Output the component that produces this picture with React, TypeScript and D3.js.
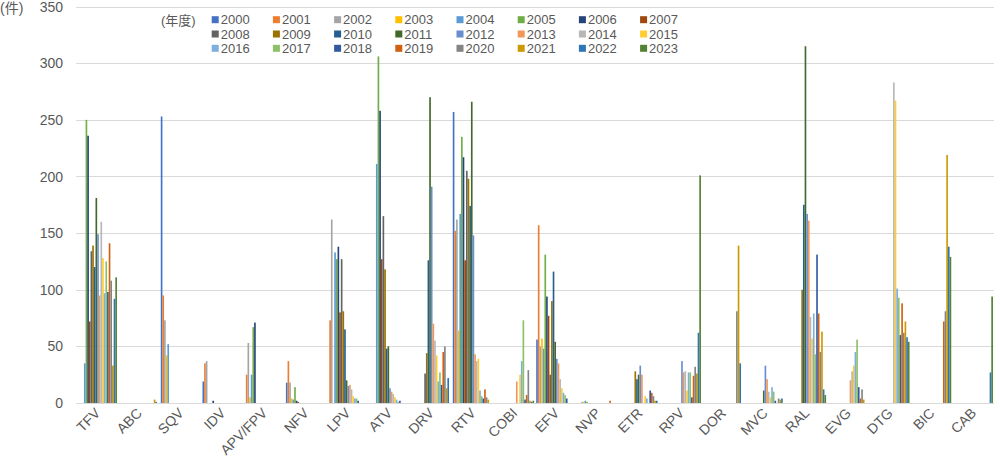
import React, { useEffect, useRef } from 'react';
import * as d3 from 'd3';

// categories (drugs) and the series (fiscal years)
const drugs = ['TFV', 'ABC', 'SQV', 'IDV', 'APV/FPV', 'NFV', 'LPV', 'ATV', 'DRV', 'RTV', 'COBI', 'EFV', 'NVP', 'ETR', 'RPV', 'DOR', 'MVC', 'RAL', 'EVG', 'DTG', 'BIC', 'CAB'];
const years = ['2000', '2001', '2002', '2003', '2004', '2005', '2006', '2007', '2008', '2009', '2010', '2011',
  '2012', '2013', '2014', '2015', '2016', '2017', '2018', '2019', '2020', '2021', '2022', '2023'];
const yearColors = ['#4472C4', '#ED7D31', '#A5A5A5', '#FFC000', '#5B9BD5', '#70AD47', '#264478', '#9E480E',
  '#636363', '#997300', '#255E91', '#43682B', '#698ED0', '#F1975A', '#B7B7B7', '#FFCD33',
  '#7CAFDD', '#8CC168', '#335AA1', '#D26012', '#848484', '#CC9A00', '#2E75B6', '#548235'];
const yTicks = [0, 50, 100, 150, 200, 250, 300, 350];

// counts per drug, 2000 .. 2023
const TFV = [0, 0, 0, 0, 35, 250, 236, 72, 134, 139, 120, 181, 149, 95, 160, 128, 97, 125, 98, 141, 108, 33, 92, 111];
const ABC = [0, 0, 0, 0, 0, 0, 0, 0, 0, 0, 0, 0, 0, 0, 0, 0, 0, 0, 0, 0, 0, 3, 1, 0];
const SQV = [253, 95, 73, 42, 52, 0, 0, 0, 0, 0, 0, 0, 0, 0, 0, 0, 0, 0, 0, 0, 0, 0, 0, 0];
const IDV = [19, 35, 37, 0, 0, 0, 2, 0, 0, 0, 0, 0, 0, 0, 0, 0, 0, 0, 0, 0, 0, 0, 0, 0];
const APV = [0, 25, 53, 5, 25, 67, 71, 0, 0, 0, 0, 0, 0, 0, 0, 0, 0, 0, 0, 0, 0, 0, 0, 0];
const NFV = [18, 37, 18, 4, 3, 14, 2, 1, 0, 0, 0, 0, 0, 0, 0, 0, 0, 0, 0, 0, 0, 0, 0, 0];
const LPV = [0, 73, 162, 0, 133, 127, 138, 80, 127, 81, 65, 20, 15, 16, 12, 6, 4, 4, 2, 0, 0, 0, 0, 0];
const ATV = [0, 0, 0, 0, 211, 306, 258, 127, 165, 118, 48, 50, 13, 10, 8, 5, 3, 1, 2, 0, 0, 0, 0, 0];
const DRV = [0, 0, 0, 0, 0, 0, 0, 0, 26, 44, 126, 270, 191, 70, 55, 42, 19, 27, 16, 45, 50, 13, 22, 0];
const RTV = [257, 152, 162, 64, 167, 235, 217, 126, 205, 198, 174, 266, 148, 43, 37, 39, 11, 6, 4, 12, 5, 3, 0, 0];
const COBI = [0, 0, 0, 0, 0, 0, 0, 0, 0, 0, 0, 0, 0, 19, 0, 25, 37, 73, 3, 7, 29, 2, 1, 2];
const EFV = [56, 157, 50, 57, 48, 131, 94, 77, 25, 90, 116, 54, 39, 35, 21, 13, 9, 7, 4, 0, 0, 0, 0, 0];
const NVP = [0, 0, 1, 1, 2, 1, 0, 0, 0, 0, 0, 0, 0, 0, 0, 0, 0, 0, 0, 2, 0, 0, 0, 0];
const ETR = [0, 0, 0, 0, 0, 0, 0, 0, 0, 28, 21, 25, 33, 25, 0, 6, 4, 0, 11, 9, 6, 2, 2, 0];
const RPV = [0, 0, 0, 0, 0, 0, 0, 0, 0, 0, 0, 0, 37, 27, 28, 11, 27, 27, 5, 24, 32, 26, 62, 201];
const DOR = [0, 0, 0, 0, 0, 0, 0, 0, 0, 0, 0, 0, 0, 0, 0, 0, 0, 0, 0, 0, 81, 139, 35, 0];
const MVC = [0, 0, 0, 0, 0, 0, 0, 0, 0, 0, 0, 11, 33, 21, 10, 5, 14, 10, 2, 0, 4, 3, 4, 0];
const RAL = [0, 0, 0, 0, 0, 0, 0, 0, 0, 100, 175, 315, 167, 161, 76, 57, 79, 43, 131, 79, 45, 63, 12, 7];
const EVG = [0, 0, 0, 0, 0, 0, 0, 0, 0, 0, 0, 0, 0, 20, 28, 33, 45, 56, 14, 4, 12, 3, 0, 0];
const DTG = [0, 0, 0, 0, 0, 0, 0, 0, 0, 0, 0, 0, 0, 0, 283, 267, 101, 93, 60, 88, 62, 72, 58, 54];
const BIC = [0, 0, 0, 0, 0, 0, 0, 0, 0, 0, 0, 0, 0, 0, 0, 0, 0, 0, 0, 72, 81, 219, 138, 129];
const CAB = [0, 0, 0, 0, 0, 0, 0, 0, 0, 0, 0, 0, 0, 0, 0, 0, 0, 0, 0, 0, 0, 0, 27, 94];

const counts = [TFV, ABC, SQV, IDV, APV, NFV, LPV, ATV, DRV, RTV, COBI, EFV, NVP, ETR, RPV, DOR, MVC, RAL, EVG, DTG, BIC, CAB];

const W = 1000;
const H = 464;
const FONT = '"Liberation Sans", Arial, "Noto Sans CJK JP", sans-serif';

const App: React.FC = () => {
  const svgRef = useRef<SVGSVGElement | null>(null);

  useEffect(() => {
    document.body.style.margin = '0';
    if (!svgRef.current) return;
    const svg = d3.select(svgRef.current);
    svg.selectAll('*').remove();

    const x0 = d3.scaleBand<string>()
      .domain(drugs)
      .range([76.3, 994])
      .paddingInner(0.05)
      .paddingOuter(0.025);
    const x1 = d3.scaleBand<string>()
      .domain(years)
      .range([0, x0.bandwidth()]);
    const y = d3.scaleLinear().domain([0, 350]).range([403, 6.6]);

    // gridlines
    svg.append('g')
      .selectAll('line')
      .data(yTicks)
      .enter()
      .append('line')
      .attr('x1', 76.3)
      .attr('x2', 994)
      .attr('y1', d => Math.round(y(d)) + 0.5)
      .attr('y2', d => Math.round(y(d)) + 0.5)
      .attr('stroke', '#D9D9D9')
      .attr('stroke-width', 1);

    // y tick labels
    svg.append('g')
      .selectAll('text')
      .data(yTicks)
      .enter()
      .append('text')
      .attr('x', 63)
      .attr('y', d => y(d))
      .attr('dy', '0.36em')
      .attr('text-anchor', 'end')
      .attr('font-size', 14)
      .attr('font-family', FONT)
      .attr('fill', '#595959')
      .text(d => d);

    svg.append('text')
      .attr('x', 0)
      .attr('y', 8)
      .attr('dy', '0.36em')
      .attr('font-size', 14)
      .attr('font-family', FONT)
      .attr('fill', '#595959')
      .text('(件)');

    // bars
    const groups = svg.append('g')
      .selectAll('g')
      .data(drugs)
      .enter()
      .append('g')
      .attr('transform', d => `translate(${x0(d)},0)`);

    groups.selectAll('rect')
      .data((d, i) => years.map((yr, k) => ({ yr, k, v: counts[i][k] })))
      .enter()
      .append('rect')
      .filter(d => d.v > 0)
      .attr('x', d => x1(d.yr) || 0)
      .attr('y', d => y(d.v))
      .attr('width', x1.bandwidth())
      .attr('height', d => y(0) - y(d.v))
      .attr('fill', d => yearColors[d.k]);

    // category labels, rotated
    svg.append('g')
      .selectAll('text')
      .data(drugs)
      .enter()
      .append('text')
      .attr('transform', d => `translate(${(x0(d) || 0) + x0.bandwidth() / 2 + 4},${414}) rotate(-45)`)
      .attr('text-anchor', 'end')
      .attr('font-size', 14)
      .attr('font-family', FONT)
      .attr('fill', '#595959')
      .text(d => d);

    // legend
    const legend = svg.append('g');
    legend.append('text')
      .attr('x', 161)
      .attr('y', 20)
      .attr('dy', '0.36em')
      .attr('font-size', 13)
      .attr('font-family', FONT)
      .attr('fill', '#595959')
      .text('(年度)');

    const items = legend.selectAll('g.item')
      .data(years)
      .enter()
      .append('g')
      .attr('class', 'item')
      .attr('transform', (d, i) => `translate(${211.7 + (i % 8) * 61.2},${19.7 + Math.floor(i / 8) * 14.3})`);
    items.append('rect')
      .attr('x', 0)
      .attr('y', -3.5)
      .attr('width', 7)
      .attr('height', 7)
      .attr('fill', (d, i) => yearColors[i]);
    items.append('text')
      .attr('x', 9)
      .attr('y', 0)
      .attr('dy', '0.36em')
      .attr('font-size', 13)
      .attr('font-family', FONT)
      .attr('fill', '#595959')
      .text(d => d);
  }, []);

  return (
    <svg ref={svgRef} width={W} height={H} style={{ display: 'block', background: '#fff' }} />
  );
};

export default App;
